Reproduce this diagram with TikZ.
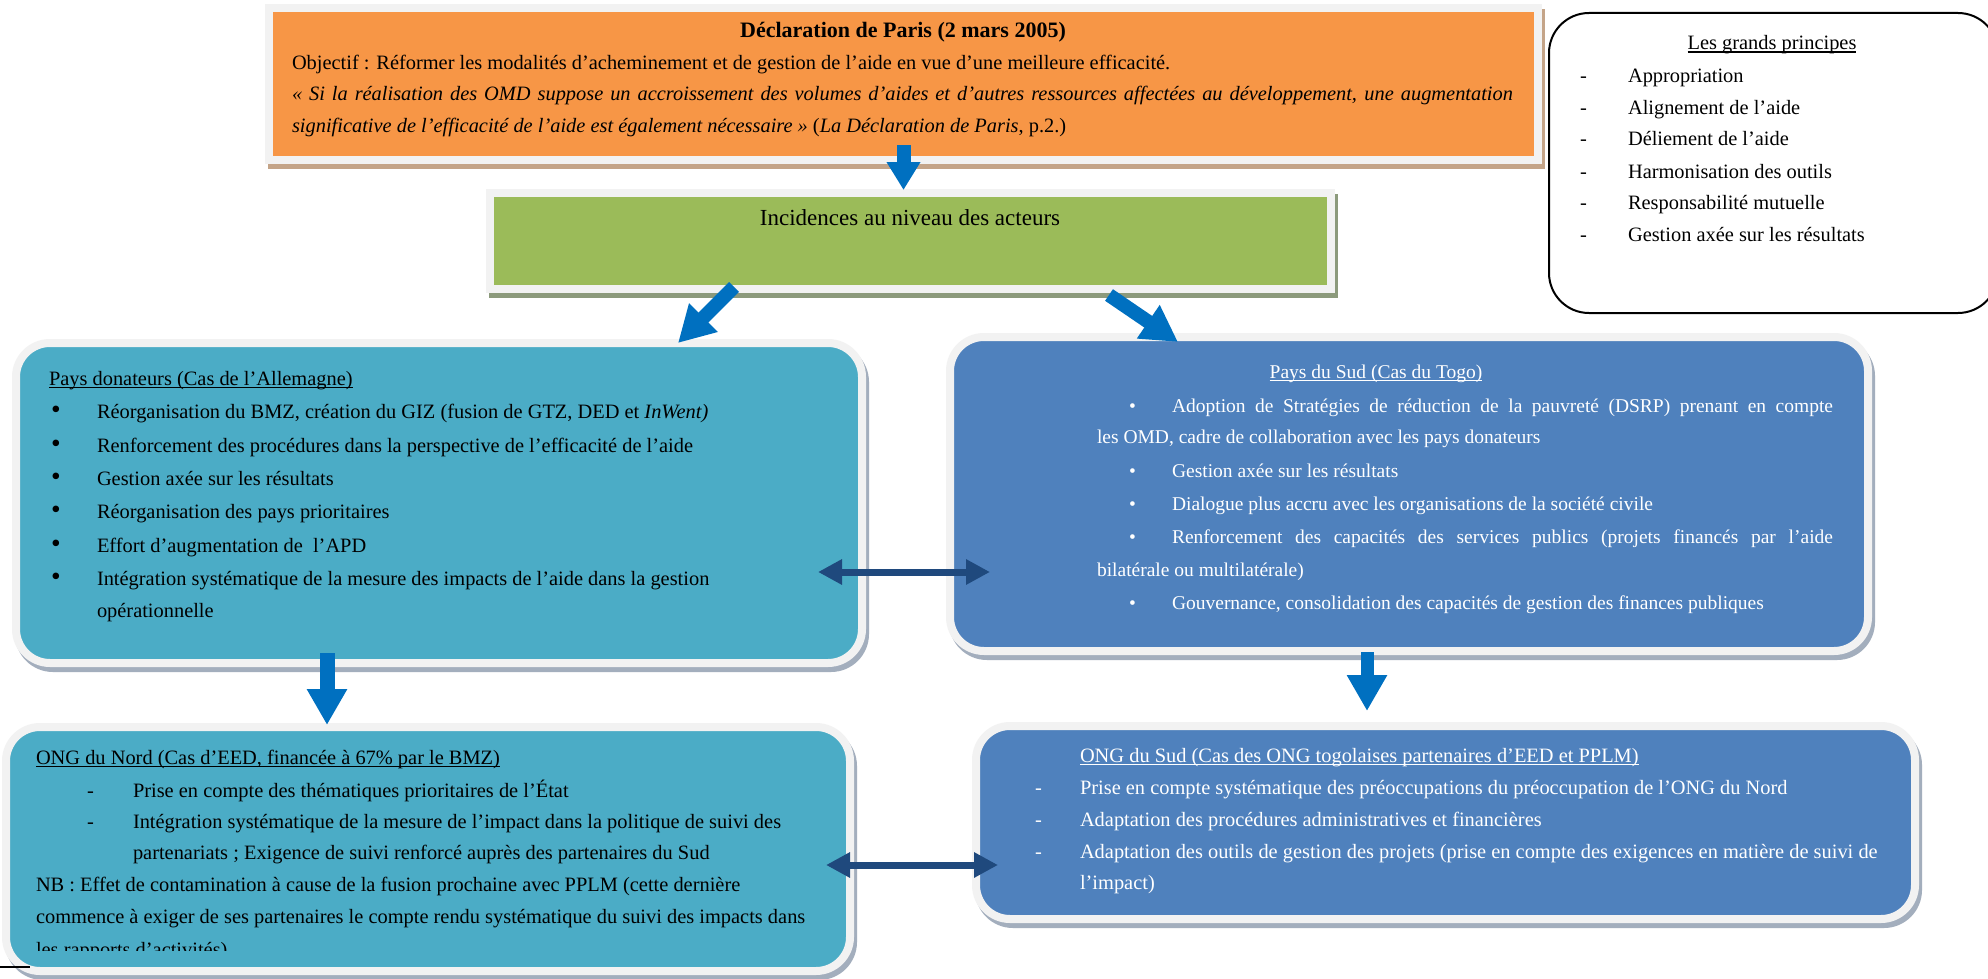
\documentclass[tikz,border=0pt]{standalone}
\usepackage{fontspec}
\setmainfont{Liberation Serif}
\usetikzlibrary{arrows.meta,calc}
\definecolor{orangeF}{HTML}{F79646}
\definecolor{greenF}{HTML}{9BBB59}
\definecolor{tealF}{HTML}{4BACC6}
\definecolor{blueF}{HTML}{4F81BD}
\definecolor{frameC}{HTML}{F2F2F2}
\definecolor{arrowC}{HTML}{0070C0}
\definecolor{darkArrow}{HTML}{1F497D}
\definecolor{shOrange}{HTML}{C4A488}
\definecolor{shGreen}{HTML}{8C9A7C}
\definecolor{shBlue}{HTML}{A3AEBD}
\newcommand\fs{\fontsize{20.4}{24}\selectfont}
\newcommand\fss{\fontsize{19.5}{23}\selectfont}
\newcommand\myul[1]{\setbox0\hbox{#1}\rlap{\rule[-2.6pt]{\wd0}{1.1pt}}\box0}
\newcommand\bigbul{\scalebox{1.35}{•}}
\begin{document}
\begin{tikzpicture}[x=1pt,y=-1pt,
  box/.style={draw=frameC, line width=8pt, inner sep=0pt, outer sep=0pt},
  shadowed/.style={preaction={draw=#1, fill=#1, transform canvas={xshift=3pt,yshift=-5pt}}},
  txt/.style={anchor=base west, inner sep=0pt, outer sep=0pt, font=\fs},
  ctxt/.style={anchor=base, inner sep=0pt, outer sep=0pt, font=\fs},
  blk/.style={draw=arrowC, line width=14pt, -{Triangle[length=36pt,width=38pt]}},
  dbl/.style={draw=darkArrow, line width=7pt, {Triangle[length=24pt,width=24pt]}-{Triangle[length=24pt,width=24pt]}},
]
\useasboundingbox (0,0) rectangle (1988,979);
\clip (0,0) rectangle (1988,979);
\fill[white] (0,0) rectangle (1988,979);

% boxes
\node[box, shadowed=shOrange, fill=orangeF, minimum width=1269pt, minimum height=152pt] (orange) at (903.5,84) {};
\node[box, shadowed=shGreen, fill=greenF, minimum width=841pt, minimum height=96pt] (green) at (910.5,241) {};
\node[draw=black, line width=2pt, rounded corners=40pt, inner sep=0pt, outer sep=0pt, minimum width=449pt, minimum height=300pt] (princ) at (1773.5,163) {};
\node[box, rounded corners=34pt, shadowed=shBlue, fill=tealF, minimum width=846pt, minimum height=320pt] (donor) at (439,503) {};
\node[box, rounded corners=34pt, shadowed=shBlue, fill=blueF, minimum width=918pt, minimum height=314pt] (sud) at (1409,494) {};
\node[box, rounded corners=34pt, shadowed=shBlue, fill=tealF, minimum width=844pt, minimum height=244pt] (ongn) at (428,849) {};
\node[box, rounded corners=34pt, shadowed=shBlue, fill=blueF, minimum width=939pt, minimum height=193pt] (ongs) at (1445.5,822.5) {};

% orange text
\node[ctxt, font=\fontsize{22}{26}\selectfont\bfseries] (o0) at (903,38) {Déclaration de Paris (2 mars 2005)};
\node[txt] (o1) at (292,70) {Objectif : Réformer les modalités d’acheminement et de gestion de l’aide en vue d’une meilleure efficacité.};
\node[txt] (o2) at (292,101) {\makebox[1221pt][s]{\itshape « Si la réalisation des OMD suppose un accroissement des volumes d’aides et d’autres ressources affectées au développement, une augmentation}};
\node[txt] (o3) at (292,132) {\textit{significative de l’efficacité de l’aide est également nécessaire »} (\textit{La Déclaration de Paris}, p.2.)};

% green text
\node[ctxt, font=\fontsize{23}{27}\selectfont] (g0) at (910,225) {Incidences au niveau des acteurs};

% principes
\node[ctxt] (p0) at (1772,50) {\myul{Les grands principes}};
\foreach \y/\t [count=\i] in {83/Appropriation, 114/Alignement de l’aide, 146/Déliement de l’aide, 178/Harmonisation des outils, 209/Responsabilité mutuelle, 241/Gestion axée sur les résultats}{
  \node[txt] (pd\i) at (1580,\y) {-};
  \node[txt] (pt\i) at (1628,\y) {\t};
}

% donor text
\node[txt] (d0) at (49,385) {\myul{Pays donateurs (Cas de l’Allemagne)}};
\foreach \y [count=\i] in {418,452,485,518,552,585}{
  \node[txt] (db\i) at (51,\y) {\bigbul};
}
\node[txt] (d1) at (97,418) {Réorganisation du BMZ, création du GIZ (fusion de GTZ, DED et \textit{InWent)}};
\node[txt] (d2) at (97,452) {Renforcement des procédures dans la perspective de l’efficacité de l’aide};
\node[txt] (d3) at (97,485) {Gestion axée sur les résultats};
\node[txt] (d4) at (97,518) {Réorganisation des pays prioritaires};
\node[txt] (d5) at (97,552) {Effort d’augmentation de\ \ l’APD};
\node[txt] (d6) at (97,585) {Intégration systématique de la mesure des impacts de l’aide dans la gestion};
\node[txt] (d7) at (97,617) {opérationnelle};

% sud text
\begin{scope}[every node/.append style={text=white, font=\fss}]
\node[ctxt, font=\fss] (s0) at (1376,378) {\myul{Pays du Sud (Cas du Togo)}};
\foreach \y [count=\i] in {412,477,510,543,609}{
  \node[txt, font=\fss] (sb\i) at (1129,\y) {•};
}
\node[txt, font=\fss] (s1) at (1172,412) {\makebox[661pt][s]{Adoption de Stratégies de réduction de la pauvreté (DSRP) prenant en compte}};
\node[txt, font=\fss] (s2) at (1097,443) {les OMD, cadre de collaboration avec les pays donateurs};
\node[txt, font=\fss] (s3) at (1172,477) {Gestion axée sur les résultats};
\node[txt, font=\fss] (s4) at (1172,510) {Dialogue plus accru avec les organisations de la société civile};
\node[txt, font=\fss] (s5) at (1172,543) {\makebox[661pt][s]{Renforcement des capacités des services publics (projets financés par l’aide}};
\node[txt, font=\fss] (s6) at (1097,576) {bilatérale ou multilatérale)};
\node[txt, font=\fss] (s7) at (1172,609) {Gouvernance, consolidation des capacités de gestion des finances publiques};
\end{scope}

% ONG Nord text
\node[txt] (n0) at (36,764) {\myul{ONG du Nord (Cas d’EED, financée à 67\% par le BMZ)}};
\node[txt] (nd1) at (87,797) {-};
\node[txt] (nd2) at (87,828) {-};
\node[txt] (n1) at (133,797) {Prise en compte des thématiques prioritaires de l’État};
\node[txt] (n2) at (133,828) {Intégration systématique de la mesure de l’impact dans la politique de suivi des};
\node[txt] (n3) at (133,859) {partenariats ; Exigence de suivi renforcé auprès des partenaires du Sud};
\node[txt] (n4) at (36,891) {NB : Effet de contamination à cause de la fusion prochaine avec PPLM (cette dernière};
\node[txt] (n5) at (36,923) {commence à exiger de ses partenaires le compte rendu systématique du suivi des impacts dans};
\begin{scope}
\clip (0,900) rectangle (900,950);
\node[txt] (n6) at (36,956) {les rapports d’activités)};
\end{scope}

% ONG Sud text
\begin{scope}[every node/.append style={text=white}]
\node[txt] (m0) at (1080,762) {\myul{ONG du Sud (Cas des ONG togolaises partenaires d’EED et PPLM)}};
\node[txt] (md1) at (1035,794) {-};
\node[txt] (md2) at (1035,826) {-};
\node[txt] (md3) at (1035,858) {-};
\node[txt] (m1) at (1080,794) {Prise en compte systématique des préoccupations du préoccupation de l’ONG du Nord};
\node[txt] (m2) at (1080,826) {Adaptation des procédures administratives et financières};
\node[txt] (m3) at (1080,858) {Adaptation des outils de gestion des projets (prise en compte des exigences en matière de suivi de};
\node[txt] (m4) at (1080,889) {l’impact)};
\end{scope}

% arrows
\draw[blk, -{Triangle[length=28pt,width=32pt]}] ($(orange.south)+(0,-15)$) -- ($(orange.south|-green.north)+(0,-3)$);
\draw[blk] ($(green.south)+(-176.5,-2)$) -- ($(donor.north)+(239,0)$);
\draw[blk] ($(green.south)+(198.5,6)$) -- ($(sud.north)+(-231,5)$);
\draw[blk, line width=15pt] ($(donor.south)+(-112,-10)$) -- ($(ongn.north)+(-101,-2)$);
\draw[blk, line width=13pt] ($(sud.south)+(-42,1)$) -- ($(ongs.north)+(-78.5,-15)$);
\draw[dbl] ($(donor.east)+(-44,69)$) -- ($(sud.west)+(40,78)$);
\draw[dbl] ($(ongn.east)+(-24,16)$) -- ($(ongs.west)+(22,42.5)$);

\draw[line width=1.5pt] (0,967) -- (30,967);
\end{tikzpicture}
\end{document}
